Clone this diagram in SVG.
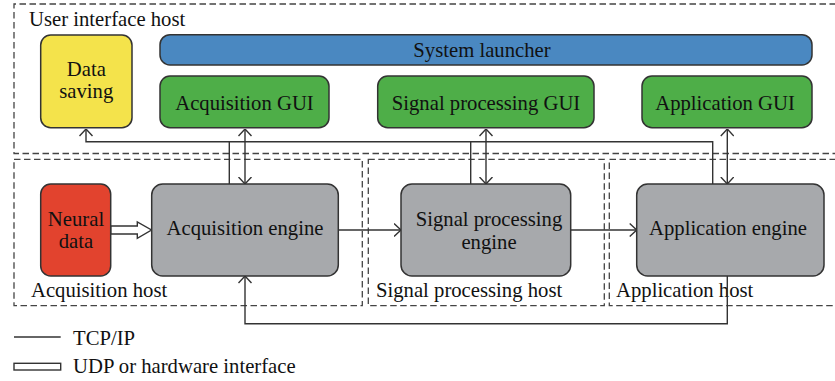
<svg xmlns="http://www.w3.org/2000/svg" width="835" height="381" viewBox="0 0 835 381">
<style>
text{font-family:"Liberation Serif","Times New Roman",serif;font-size:20.7px;fill:#111}
.c{text-anchor:middle}
.node{stroke:#333;stroke-width:1.5}
.host{fill:none;stroke:#444;stroke-width:1.3;stroke-dasharray:6.5,3.5}
.ln{fill:none;stroke:#333;stroke-width:1.4}
</style>
<defs>
<marker id="ah" viewBox="0 0 8 14" refX="7.5" refY="7" markerWidth="8" markerHeight="14" markerUnits="userSpaceOnUse" orient="auto-start-reverse">
<path d="M0.5,0.5 L7.5,7 L0.5,13.5" fill="none" stroke="#333" stroke-width="1.4"/>
</marker>
</defs>
<rect width="835" height="381" fill="#fff"/>
<g id="hosts">
<path class="host" d="M836,4 H14 V153.5 H836"/>
<rect class="host" x="14" y="159.3" width="348.3" height="146.4"/>
<rect class="host" x="368.3" y="159.3" width="236" height="146.4"/>
<path class="host" d="M836,159.3 H609.3 V305.7 H836"/>
<text x="29" y="26">User interface host</text>
<text x="31" y="297">Acquisition host</text>
<text x="376" y="297">Signal processing host</text>
<text x="616" y="297">Application host</text>
</g>
<g id="connectors">
<path class="ln" d="M86,129 V141.7 H712.7 V184" marker-start="url(#ah)"/>
<path class="ln" d="M229.3,141.7 V184"/>
<path class="ln" d="M470.7,141.7 V184"/>
<path class="ln" d="M245,129 V184" marker-start="url(#ah)" marker-end="url(#ah)"/>
<path class="ln" d="M486,129 V184" marker-start="url(#ah)" marker-end="url(#ah)"/>
<path class="ln" d="M727.3,129 V184" marker-start="url(#ah)" marker-end="url(#ah)"/>
<path class="ln" d="M338.3,230 H401" marker-end="url(#ah)"/>
<path class="ln" d="M570.7,230 H636.7" marker-end="url(#ah)"/>
<path class="ln" d="M727.3,276 V323.7 H245 V276" marker-end="url(#ah)"/>
<path d="M110.7,226 H137.3 V222 L151.5,230 L137.3,238.3 V234 H110.7 Z" fill="#fff" stroke="#333" stroke-width="1.4"/>
</g>
<g id="data-saving">
<rect class="node" x="40.7" y="35" width="91.3" height="92.7" rx="10" fill="#f4e34b"/>
<text class="c" x="86.3" y="76">Data</text>
<text class="c" x="86.3" y="98">saving</text>
</g>
<g id="system-launcher">
<rect class="node" x="160" y="34.7" width="652" height="30.3" rx="10" fill="#4a88c1"/>
<text class="c" x="482" y="57">System launcher</text>
</g>
<g id="acquisition-gui">
<rect class="node" x="160" y="76" width="169" height="51.7" rx="10" fill="#4eae48"/>
<text class="c" x="244.5" y="110">Acquisition GUI</text>
</g>
<g id="signal-processing-gui">
<rect class="node" x="377.7" y="76" width="216.3" height="51.7" rx="10" fill="#4eae48"/>
<text class="c" x="486" y="110">Signal processing GUI</text>
</g>
<g id="application-gui">
<rect class="node" x="642" y="76" width="170" height="51.7" rx="10" fill="#4eae48"/>
<text class="c" x="725" y="110">Application GUI</text>
</g>
<g id="neural-data">
<rect class="node" x="40.7" y="184" width="70" height="92" rx="10" fill="#e2432e"/>
<text class="c" x="76" y="226">Neural</text>
<text class="c" x="76" y="248">data</text>
</g>
<g id="acquisition-engine">
<rect class="node" x="151.7" y="184" width="186.6" height="92" rx="11" fill="#a7a9ac"/>
<text class="c" x="245" y="235">Acquisition engine</text>
</g>
<g id="signal-processing-engine">
<rect class="node" x="401" y="184" width="169.7" height="92" rx="11" fill="#a7a9ac"/>
<text class="c" x="489" y="226">Signal processing</text>
<text class="c" x="489" y="249">engine</text>
</g>
<g id="application-engine">
<rect class="node" x="636.7" y="184" width="187.3" height="92" rx="11" fill="#a7a9ac"/>
<text class="c" x="728" y="235">Application engine</text>
</g>
<g id="legend">
<path class="ln" d="M14,337 H60.7"/>
<text x="73" y="345">TCP/IP</text>
<rect x="14" y="363.3" width="46.7" height="6.7" fill="#fff" stroke="#333" stroke-width="1.4"/>
<text x="73" y="372.7">UDP or hardware interface</text>
</g>
</svg>
